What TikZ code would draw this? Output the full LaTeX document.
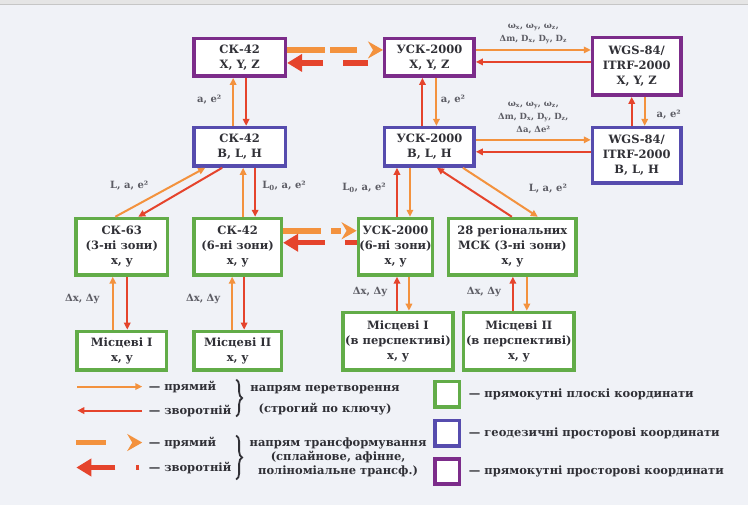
\documentclass[tikz,border=0pt]{standalone}
\usepackage{fontspec}
\setmainfont{DejaVu Serif}
\usetikzlibrary{arrows.meta, positioning, calc, decorations.pathreplacing}
\definecolor{xyzpurple}{RGB}{124, 44, 138}
\definecolor{blhblue}{RGB}{86, 76, 174}
\definecolor{plangreen}{RGB}{98, 172, 72}
\definecolor{fwdorange}{RGB}{243, 146, 62}
\definecolor{invred}{RGB}{229, 68, 44}
\definecolor{pagebg}{RGB}{240, 242, 247}
\definecolor{inkgray}{RGB}{48, 48, 54}
\definecolor{labgray}{RGB}{92, 92, 100}

\begin{document}
\begin{tikzpicture}[x=1pt, y=-1pt,
  sysbox/.style={draw, line width=3.5pt, fill=white, align=center, text=inkgray, inner sep=1pt, font=\bfseries\fontsize{11.5}{15}\selectfont},
  xyzbox/.style={sysbox, draw=xyzpurple},
  blhbox/.style={sysbox, draw=blhblue},
  planbox/.style={sysbox, draw=plangreen},
  fwd/.style={draw=fwdorange, line width=2pt, -{Triangle[length=7pt, width=6.5pt]}},
  inv/.style={draw=invred, line width=2pt, -{Triangle[length=7pt, width=6.5pt]}},
  tfwd/.style={draw=fwdorange, line width=5.5pt, -{Stealth[length=15pt, width=17pt, inset=5pt]}},
  tinv/.style={draw=invred, line width=5.5pt, -{Triangle[length=15pt, width=17pt]}},
  lab/.style={text=labgray, align=center, font=\bfseries\fontsize{10}{11}\selectfont},
  tinylab/.style={text=labgray, align=center, font=\bfseries\fontsize{8.5}{13}\selectfont},
  legtext/.style={text=inkgray, align=center, font=\bfseries\fontsize{11.5}{14}\selectfont},
  legbrace/.style={draw=inkgray, line width=1.8pt, decorate, decoration={brace, amplitude=6pt}}
]
  \fill[pagebg] (0,0) rectangle (748,506);
  \fill[gray!20] (0,0) rectangle (748,4);
  \draw[gray!45, line width=0.8pt] (0,4.5) -- (748,4.5);

  % spatial rectangular systems
  \node[xyzbox, minimum width=91.5pt, minimum height=37.5pt] (k42x) at (239.5,57.5) {СК-42\\X, Y, Z};
  \node[xyzbox, minimum width=89.5pt, minimum height=37.5pt] (usx) at (429.5,57.5) {УСК-2000\\X, Y, Z};
  \node[xyzbox, minimum width=88.5pt, minimum height=57.5pt] (wgx) at (637,66.5) {WGS-84/\\ITRF-2000\\X, Y, Z};

  % geodetic systems
  \node[blhbox, minimum width=91.5pt, minimum height=38.5pt] (k42b) at (239.5,147) {СК-42\\B, L, H};
  \node[blhbox, minimum width=89.5pt, minimum height=38.5pt] (usb) at (429.5,147) {УСК-2000\\B, L, H};
  \node[blhbox, minimum width=88.5pt, minimum height=55.5pt] (wgb) at (637,155.5) {WGS-84/\\ITRF-2000\\B, L, H};

  % plane systems
  \node[planbox, minimum width=91.5pt, minimum height=56.5pt] (k63) at (121.5,247) {СК-63\\(3-ні зони)\\x, y};
  \node[planbox, minimum width=87.5pt, minimum height=56.5pt] (k426) at (237.5,247) {СК-42\\(6-ні зони)\\x, y};
  \node[planbox, minimum width=71.5pt, minimum height=56.5pt] (us6) at (395.5,247) {УСК-2000\\(6-ні зони)\\x, y};
  \node[planbox, minimum width=127.5pt, minimum height=56.5pt] (r28) at (512.5,247) {28 регіональних\\МСК (3-ні зони)\\x, y};

  % local systems
  \node[planbox, minimum width=89.5pt, minimum height=38.5pt] (m1) at (121.5,351) {Місцеві І\\x, y};
  \node[planbox, minimum width=87.5pt, minimum height=38.5pt] (m2) at (237.5,351) {Місцеві ІІ\\x, y};
  \node[planbox, minimum width=110.5pt, minimum height=57.5pt] (p1) at (398,341.5) {Місцеві І\\(в перспективі)\\x, y};
  \node[planbox, minimum width=110.5pt, minimum height=57.5pt] (p2) at (519,341.5) {Місцеві ІІ\\(в перспективі)\\x, y};

  % transformations
  \draw[tfwd, dash pattern=on 38pt off 5pt on 27pt off 30pt] ([yshift=7.5pt]k42x.east) -- ([yshift=7.5pt]k42x.east -| usx.west);
  \draw[tinv, dash pattern=on 0pt off 15pt on 25pt off 20pt on 40pt] ([yshift=-5.5pt]usx.west) -- ([yshift=-5.5pt]usx.west -| k42x.east);
  \draw[tfwd, dash pattern=on 38pt off 10pt on 10pt off 30pt] ([yshift=16pt]k426.east) -- ([yshift=16pt]k426.east -| us6.west);
  \draw[tinv, dash pattern=on 12pt off 20pt on 40pt] ([yshift=4pt]us6.west) -- ([yshift=4pt]us6.west -| k426.east);

  % conversions XYZ
  \draw[fwd] ([yshift=7.5pt]usx.east) -- ([yshift=7.5pt]usx.east -| wgx.west)
    node[midway, above=2pt, tinylab] {ω\textsubscript{x}, ω\textsubscript{y}, ω\textsubscript{z},\\Δm, D\textsubscript{x}, D\textsubscript{y}, D\textsubscript{z}};
  \draw[inv] ([yshift=-4.5pt]usx.east -| wgx.west) -- ([yshift=-4.5pt]usx.east);
  \draw[fwd] ([yshift=7pt]usb.east) -- ([yshift=7pt]usb.east -| wgb.west)
    node[midway, above=2pt, tinylab] {ω\textsubscript{x}, ω\textsubscript{y}, ω\textsubscript{z},\\Δm, D\textsubscript{x}, D\textsubscript{y}, D\textsubscript{z},\\Δa, Δe²};
  \draw[inv] ([yshift=-5pt]usb.east -| wgb.west) -- ([yshift=-5pt]usb.east);

  % XYZ <-> BLH
  \draw[fwd] ([xshift=-6.5pt]k42b.north) -- ([xshift=-6.5pt]k42x.south);
  \draw[inv] ([xshift=6.5pt]k42x.south) -- ([xshift=6.5pt]k42b.north);
  \node[lab] (lk42) at (209,100) {a, e²};
  \draw[inv] ([xshift=-7pt]usb.north) -- ([xshift=-7pt]usx.south);
  \draw[fwd] ([xshift=7pt]usx.south) -- ([xshift=7pt]usb.north);
  \node[lab] (lus) at (453,100) {a, e²};
  \draw[inv] ([xshift=-5pt]wgb.north) -- ([xshift=-5pt]wgx.south);
  \draw[fwd] ([xshift=8pt]wgx.south) -- ([xshift=8pt]wgb.north);
  \node[lab] (lwg) at (669,115) {a, e²};

  % BLH <-> plane
  \draw[fwd] ([xshift=-6.5pt]k63.north) -- ([xshift=-34.5pt]k42b.south);
  \draw[inv] ([xshift=-17.5pt]k42b.south) -- ([xshift=16.5pt]k63.north);
  \node[lab] (l63) at (129,186) {L, a, e²};
  \draw[fwd] ([xshift=5.5pt]k426.north) -- ([xshift=5.5pt]k426.north |- k42b.south);
  \draw[inv] ([xshift=17.5pt]k426.north |- k42b.south) -- ([xshift=17.5pt]k426.north);
  \node[lab] (l426) at (284,186) {L\textsubscript{0}, a, e²};
  \draw[inv] ([xshift=1.5pt]us6.north) -- ([xshift=1.5pt]us6.north |- usb.south);
  \draw[fwd] ([xshift=14.5pt]us6.north |- usb.south) -- ([xshift=14.5pt]us6.north);
  \node[lab] (lus6) at (364,188) {L\textsubscript{0}, a, e²};
  \draw[inv] ([xshift=-0.5pt]r28.north) -- ([xshift=7.5pt]usb.south);
  \draw[fwd] ([xshift=33.5pt]usb.south) -- ([xshift=25.5pt]r28.north);
  \node[lab] (l28) at (548,189) {L, a, e²};

  % plane <-> local
  \draw[fwd] ([xshift=-9pt]m1.north) -- ([xshift=-9pt]m1.north |- k63.south);
  \draw[inv] ([xshift=5.5pt]m1.north |- k63.south) -- ([xshift=5.5pt]m1.north);
  \node[lab] (lm1) at (82,299) {Δx, Δy};
  \draw[fwd] ([xshift=-5.5pt]m2.north) -- ([xshift=-5.5pt]m2.north |- k426.south);
  \draw[inv] ([xshift=6.5pt]m2.north |- k426.south) -- ([xshift=6.5pt]m2.north);
  \node[lab] (lm2) at (203,299) {Δx, Δy};
  \draw[inv] ([xshift=1.5pt]us6.south |- p1.north) -- ([xshift=1.5pt]us6.south);
  \draw[fwd] ([xshift=13.5pt]us6.south) -- ([xshift=13.5pt]us6.south |- p1.north);
  \node[lab] (lp1) at (370,292) {Δx, Δy};
  \draw[inv] ([xshift=0.5pt]r28.south |- p2.north) -- ([xshift=0.5pt]r28.south);
  \draw[fwd] ([xshift=14.5pt]r28.south) -- ([xshift=14.5pt]r28.south |- p2.north);
  \node[lab] (lp2) at (484,292) {Δx, Δy};

  % legend
  \coordinate (g1a) at (77,387);  \coordinate (g1b) at (142,387);
  \coordinate (g2a) at (77,411);  \coordinate (g2b) at (142,411);
  \coordinate (g3a) at (76,443);  \coordinate (g3b) at (142,443);
  \coordinate (g4a) at (76,468);  \coordinate (g4b) at (139,468);
  \draw[fwd] (g1a) -- (g1b);
  \draw[inv] (g2b) -- (g2a);
  \draw[tfwd, dash pattern=on 30pt off 30pt] (g3a) -- (g3b);
  \draw[tinv, dash pattern=on 3pt off 21pt on 40pt] (g4b) -- (g4a);
  \node[legtext, anchor=west] (t1) at (145,387) {— прямий};
  \node[legtext, anchor=west] (t2) at (145,411) {— зворотній};
  \node[legtext, anchor=west] (t3) at (145,443) {— прямий};
  \node[legtext, anchor=west] (t4) at (145,468) {— зворотній};
  \draw[legbrace] (236,380) -- (236,417);
  \draw[legbrace] (236,436) -- (236,480);
  \node[legtext] (conv) at (325,401) {напрям перетворення\\[7pt](строгий по ключу)};
  \node[legtext] (trans) at (338,458) {напрям трансформування\\(сплайнове, афінне,\\поліноміальне трансф.)};

  \node[planbox, minimum width=24.5pt, minimum height=25.5pt] (kg) at (447.5,394.5) {};
  \node[blhbox, minimum width=24.5pt, minimum height=25.5pt] (kb) at (447.5,433.5) {};
  \node[xyzbox, minimum width=24.5pt, minimum height=25.5pt] (kp) at (447.5,472) {};
  \node[legtext, right=4pt of kg] (tg) {— прямокутні плоскі координати};
  \node[legtext, right=4pt of kb] (tb) {— геодезичні просторові координати};
  \node[legtext, right=4pt of kp] (tp) {— прямокутні просторові координати};
\end{tikzpicture}
\end{document}
